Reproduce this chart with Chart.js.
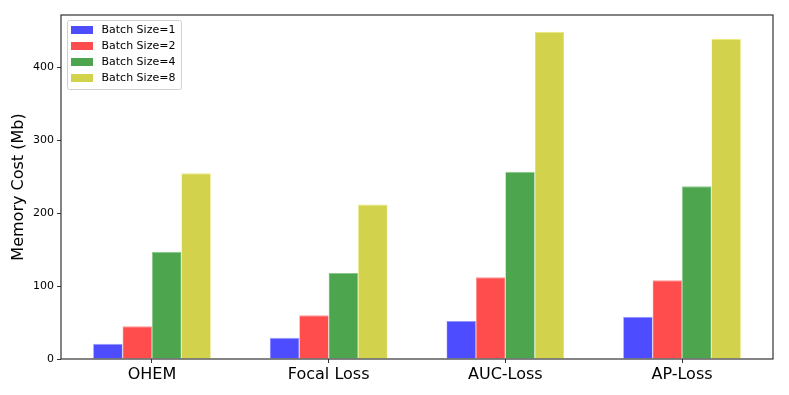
<!DOCTYPE html>
<html>
<head>
<meta charset="utf-8">
<script src="https://cdn.jsdelivr.net/npm/chart.js@4.4.1/dist/chart.umd.min.js"></script>
<style>
  html, body { margin: 0; padding: 0; background: #fff; }
  #wrap { width: 789px; height: 395px; }
</style>
</head>
<body>
<div id="wrap"><canvas id="memChart" width="789" height="395"></canvas></div>
<script>
// Memory cost per method, one array per batch size (Mb)
const methods = ['OHEM', 'Focal Loss', 'AUC-Loss', 'AP-Loss'];
const batch1 = [21, 29, 52, 58];
const batch2 = [45, 60, 112, 108];
const batch4 = [147, 118, 257, 237];
const batch8 = [255, 212, 449, 439];
const seriesNames = ['Batch Size=1', 'Batch Size=2', 'Batch Size=4', 'Batch Size=8'];
const yTicks = [0, 100, 200, 300, 400];

const colors = ['rgb(77,77,255)', 'rgb(255,77,77)', 'rgb(77,166,77)', 'rgb(210,210,77)'];
const edges = ['rgb(150,150,255)', 'rgb(255,150,150)', 'rgb(140,200,140)', 'rgb(235,235,120)'];
const FONT = "'DejaVu Sans', sans-serif";
const AXIS = '#333';

// frame around the plot + legend box in the upper-left corner
const framePlugin = {
    id: 'frame',
    afterDraw(chart) {
        const ctx = chart.ctx;
        const a = chart.chartArea;
        ctx.save();
        ctx.strokeStyle = AXIS;
        ctx.lineWidth = 1.2;
        ctx.strokeRect(a.left, a.top, a.right - a.left, a.bottom - a.top);

        // legend
        ctx.font = '11px ' + FONT;
        let maxW = 0;
        chart.data.datasets.forEach(ds => { maxW = Math.max(maxW, ctx.measureText(ds.label).width); });
        const x0 = a.left + 6, y0 = a.top + 5;
        const rowH = 16, boxW = 22 + 8 + maxW + 10, boxH = rowH * 4 + 5;
        ctx.fillStyle = 'rgba(255,255,255,0.8)';
        ctx.strokeStyle = '#d0d0d0';
        ctx.lineWidth = 1;
        ctx.beginPath();
        ctx.roundRect(x0 + 0.5, y0 + 0.5, boxW, boxH, 2);
        ctx.fill();
        ctx.stroke();
        chart.data.datasets.forEach((ds, i) => {
            const cy = y0 + 10 + i * rowH;
            ctx.fillStyle = ds.backgroundColor;
            ctx.fillRect(x0 + 4, cy - 4, 22, 8);
            ctx.fillStyle = '#000';
            ctx.textBaseline = 'middle';
            ctx.textAlign = 'left';
            ctx.fillText(ds.label, x0 + 34.5, cy + 0.5);
        });
        ctx.restore();
    }
};

const ctx = document.getElementById('memChart').getContext('2d');
new Chart(ctx, {
    type: 'bar',
    data: {
        datasets: [batch1, batch2, batch4, batch8].map((vals, i) => ({
            label: seriesNames[i],
            data: vals.map((v, j) => ({ x: j, y: v })),
            backgroundColor: colors[i],
            borderColor: edges[i],
            borderWidth: { top: 1, left: 0.6, right: 0.6, bottom: 0 },
            barPercentage: 1.0,
            categoryPercentage: 0.666
        }))
    },
    options: {
        responsive: false,
        animation: false,
        layout: { padding: { top: 15, right: 16, left: 9, bottom: 0 } },
        plugins: {
            legend: { display: false },
            tooltip: { enabled: false }
        },
        scales: {
            x: {
                type: 'linear',
                offset: false,
                min: -0.515,
                max: 3.515,
                afterBuildTicks(scale) { scale.ticks = methods.map((m, j) => ({ value: j })); },
                grid: { offset: false, drawOnChartArea: false, drawTicks: true, tickLength: 4, color: AXIS },
                border: { display: false },
                ticks: {
                    color: '#000', font: { family: FONT, size: 16 }, padding: 2, maxRotation: 0,
                    callback: (v) => methods[v]
                },
                afterFit(scale) { scale.height = 36; }
            },
            y: {
                min: 0,
                max: 472,
                afterBuildTicks(scale) { scale.ticks = yTicks.map(v => ({ value: v })); },
                grid: { drawOnChartArea: false, drawTicks: true, tickLength: 4, color: AXIS },
                border: { display: false },
                ticks: { color: '#000', font: { family: FONT, size: 11 }, padding: 3 },
                title: { display: true, text: 'Memory Cost (Mb)', color: '#000', font: { family: FONT, size: 16 }, padding: { top: 0, bottom: 6 } },
                afterFit(scale) { scale.width = 52; }
            }
        }
    },
    plugins: [framePlugin]
});
</script>
</body>
</html>
